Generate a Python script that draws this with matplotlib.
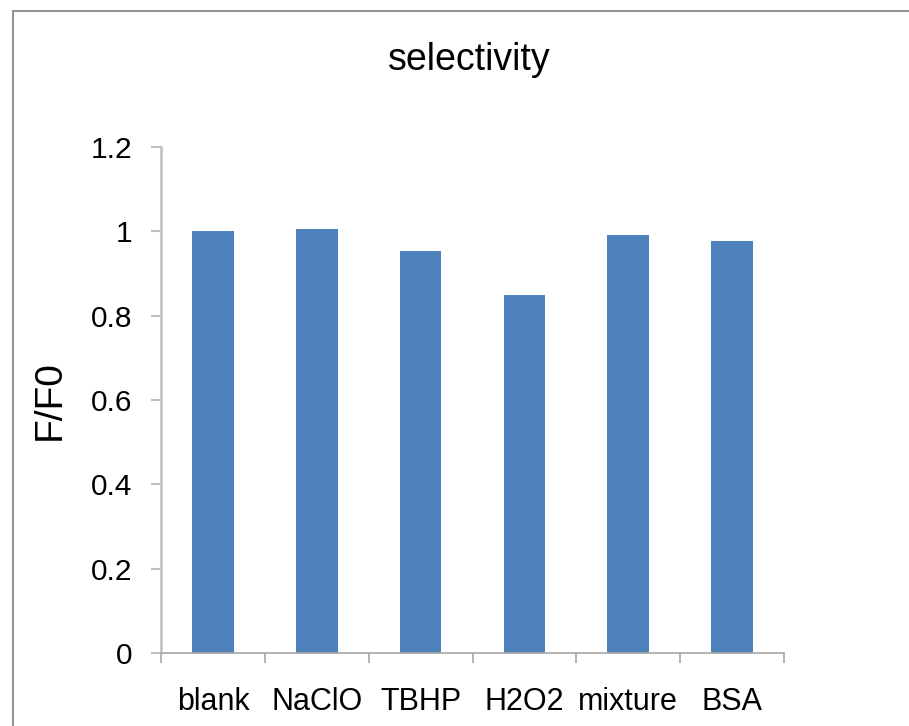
import matplotlib.pyplot as plt
from matplotlib.patches import Rectangle
import numpy as np

plt.rcParams['font.family'] = ['Liberation Sans', 'DejaVu Sans']

# Dane: względna fluorescencja F/F0 dla badanych substancji
categories = ['blank', 'NaClO', 'TBHP', 'H2O2', 'mixture', 'BSA']
ratios = [1.0, 1.005, 0.953, 0.849, 0.991, 0.977]
y_ticks = [0, 0.2, 0.4, 0.6, 0.8, 1.0, 1.2]
y_tick_labels = ['0', '0.2', '0.4', '0.6', '0.8', '1', '1.2']

W, H = 909, 726
fig = plt.figure(figsize=(W / 100, H / 100), dpi=100)
ax = fig.add_axes([161 / W, 1 - 653.3 / H, 623 / W, 506.6 / H])

x = np.arange(len(categories))
ax.bar(x, ratios, width=0.4, color='#4F81BD')

ax.set_xlim(-0.5, len(categories) - 0.5)
ax.set_ylim(0, 1.2)
ax.set_yticks(y_ticks)
ax.set_yticklabels(y_tick_labels, fontsize=21.5)
ax.set_xticks(x)
ax.set_xticklabels(categories, fontsize=22)
ax.set_xticks(np.arange(len(categories) + 1) - 0.5, minor=True)

ax.tick_params(axis='x', which='major', length=0, pad=24)
ax.tick_params(axis='x', which='minor', length=7.5, width=1.2, color='#A6A6A6', direction='out')
ax.tick_params(axis='y', length=7.5, width=1.5, color='#BFBFBF', direction='out', pad=13)

for side in ['top', 'right']:
    ax.spines[side].set_visible(False)
ax.spines['left'].set_color('#BFBFBF')
ax.spines['left'].set_linewidth(1.8)
ax.spines['bottom'].set_color('#A6A6A6')
ax.spines['bottom'].set_linewidth(1.2)

fig.text(469 / W, 1 - 70 / H, 'selectivity', fontsize=27, ha='center', va='baseline')
fig.text(50 / W, 1 - 400 / H, 'F/F0', fontsize=28, rotation=90, ha='center', va='center')

# ramka wykresu
fig.patches.append(Rectangle((13 / W, -0.1), 1.2, 1.1 - 11.5 / H, transform=fig.transFigure,
                             fill=False, edgecolor='#888888', linewidth=1.3))

fig.savefig('out.png', dpi=100)
